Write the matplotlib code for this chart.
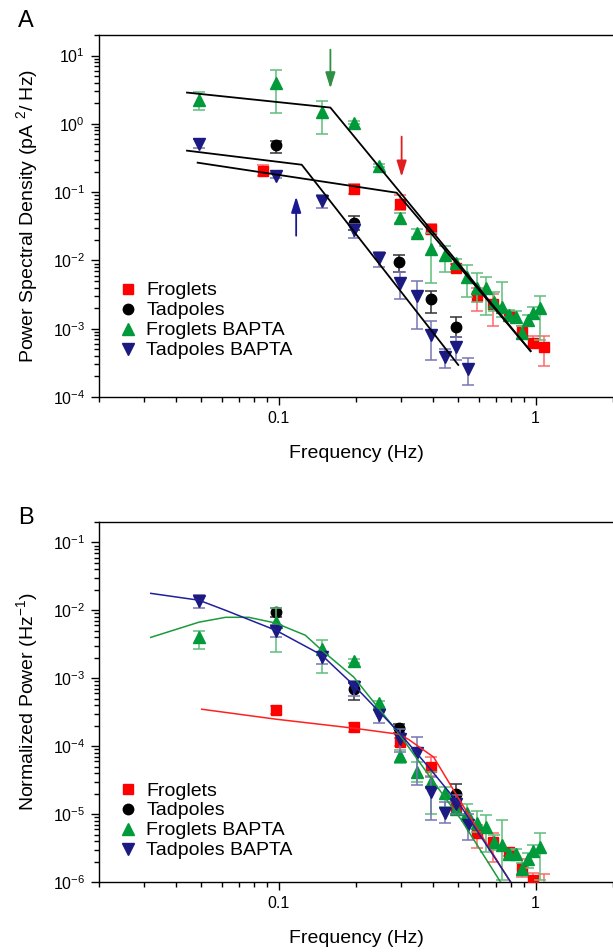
import numpy as np
import matplotlib.pyplot as plt
from matplotlib.ticker import FixedLocator, FixedFormatter, LogLocator, NullFormatter

plt.rcParams['font.family'] = ['Liberation Sans', 'DejaVu Sans']
plt.rcParams['mathtext.fontset'] = 'custom'
plt.rcParams['mathtext.rm'] = 'Liberation Sans'
plt.rcParams['mathtext.it'] = 'Liberation Sans:italic'
plt.rcParams['mathtext.bf'] = 'Liberation Sans:bold'
plt.rcParams['axes.unicode_minus'] = False

# ---------------- Panel A : power spectral density ----------------
a_fr_f = [0.0866, 0.196, 0.296, 0.391, 0.489, 0.589, 0.681, 0.786, 0.882, 0.98, 1.074]
a_fr_v = [0.206, 0.112, 0.0676, 0.029, 0.0078, 0.0030, 0.0023, 0.00155, 0.0009, 0.00062, 0.00054]
a_fr_lo = [0.17, 0.095, 0.055, 0.024, 0.0068, 0.0018, 0.0011, 0.0013, 0.0007, 0.00055, 0.00028]
a_fr_hi = [0.25, 0.13, 0.092, 0.034, 0.009, 0.0040, 0.0032, 0.0018, 0.0011, 0.00078, 0.00078]

a_td_f = [0.0974, 0.196, 0.293, 0.391, 0.489]
a_td_v = [0.495, 0.0356, 0.0095, 0.00273, 0.00106]
a_td_lo = [0.38, 0.028, 0.0068, 0.0017, 0.00076]
a_td_hi = [0.57, 0.044, 0.0119, 0.0036, 0.00149]

a_fb_f = [0.049, 0.0974, 0.147, 0.196, 0.245, 0.296, 0.344, 0.391, 0.443, 0.489, 0.54,
          0.589, 0.639, 0.686, 0.738, 0.786, 0.836, 0.882, 0.93, 0.98, 1.036]
a_fb_v = [2.26, 4.0, 1.51, 1.04, 0.244, 0.042, 0.0254, 0.0148, 0.0121, 0.0092, 0.0057,
          0.0040, 0.0040, 0.0025, 0.0021, 0.00158, 0.0015, 0.00087, 0.00135, 0.0017, 0.0020]
a_fb_lo = [1.6, 1.46, 0.72, 0.98, 0.23, 0.035, 0.022, 0.0047, 0.0068, 0.008, 0.0029,
           0.0025, 0.0016, 0.0018, 0.0015, 0.0013, 0.0012, 0.0007, 0.0011, 0.0014, 0.00068]
a_fb_hi = [2.9, 6.2, 2.19, 1.1, 0.26, 0.05, 0.029, 0.025, 0.016, 0.0105, 0.0085,
           0.0066, 0.0057, 0.0035, 0.0049, 0.0019, 0.0018, 0.0011, 0.0016, 0.0021, 0.003]

a_tb_f = [0.049, 0.0974, 0.147, 0.196, 0.245, 0.296, 0.344, 0.391, 0.443, 0.489, 0.544]
a_tb_v = [0.513, 0.174, 0.075, 0.0281, 0.0109, 0.0047, 0.003, 0.00081, 0.000386, 0.00054, 0.000257]
a_tb_lo = [0.45, 0.16, 0.059, 0.021, 0.0081, 0.0027, 0.00099, 0.00035, 0.00027, 0.00035, 0.00015]
a_tb_hi = [0.6, 0.19, 0.092, 0.034, 0.0133, 0.0068, 0.005, 0.00128, 0.00051, 0.00076, 0.00037]

# broken-line fits (black)
fit_a_fb_f = [0.044, 0.159, 0.956]
fit_a_fb_v = [2.87, 1.73, 4.7e-4]
fit_a_tb_f = [0.044, 0.123, 0.50]
fit_a_tb_v = [0.405, 0.252, 2.95e-4]
fit_a_fr_f = [0.0484, 0.288, 0.956]
fit_a_fr_v = [0.27, 0.098, 4.7e-4]

# ---------------- Panel B : normalized power ----------------
b_fr_f = [0.0974, 0.196, 0.296, 0.391, 0.489, 0.589, 0.681, 0.786, 0.882, 0.98, 1.074]
b_fr_v = [0.00034, 0.00019, 0.000115, 4.9e-5, 1.26e-5, 5.2e-6, 3.9e-6, 2.75e-6, 1.6e-6, 1.07e-6, 7e-7]
b_fr_lo = [0.00030, 0.00016, 0.0001, 3.7e-5, 1.0e-5, 3.2e-6, 1.98e-6, 2.4e-6, 1.2e-6, 8e-7, 5e-7]
b_fr_hi = [0.00039, 0.00022, 0.00013, 6.9e-5, 1.5e-5, 6.9e-6, 5.2e-6, 3.1e-6, 2.2e-6, 1.35e-6, 1.3e-6]

b_td_f = [0.0974, 0.196, 0.293, 0.489]
b_td_v = [0.0094, 0.00069, 0.000184, 1.97e-5]
b_td_lo = [0.008, 0.00048, 0.000155, 1.6e-5]
b_td_hi = [0.011, 0.00085, 0.00021, 2.8e-5]

b_fb_f = a_fb_f
b_fb_v = [0.0040, 0.00667, 0.00267, 0.00178, 0.000426, 7.1e-5, 4.2e-5, 2.95e-5, 2.04e-5, 1.2e-5, 1.04e-5,
          7.5e-6, 6.4e-6, 3.9e-6, 3.5e-6, 2.6e-6, 2.6e-6, 1.55e-6, 2.2e-6, 2.9e-6, 3.3e-6]
b_fb_lo = [0.0027, 0.0024, 0.0012, 0.0017, 0.00038, 5.6e-5, 3.0e-5, 1.0e-5, 1.26e-5, 1.0e-5, 8e-6,
           5.5e-6, 2.8e-6, 3e-6, 1.07e-6, 2.2e-6, 2.2e-6, 1.3e-6, 1.6e-6, 2.4e-6, 1.07e-6]
b_fb_hi = [0.0049, 0.0107, 0.0037, 0.0019, 0.00047, 8.8e-5, 5.8e-5, 4.2e-5, 2.5e-5, 1.5e-5, 1.4e-5,
           1.1e-5, 9.7e-6, 5.0e-6, 8.2e-6, 3.0e-6, 3.1e-6, 1.9e-6, 2.7e-6, 3.5e-6, 5.2e-6]

b_tb_f = a_tb_f
b_tb_v = [0.01355, 0.0049, 0.00204, 0.00074, 0.000286, 0.000127, 7.9e-5, 2.1e-5, 1.03e-5, 1.41e-5, 6.9e-6]
b_tb_lo = [0.011, 0.004, 0.0016, 0.00055, 0.00022, 8.3e-5, 2.7e-5, 8.2e-6, 7.4e-6, 1.0e-5, 4.2e-6]
b_tb_hi = [0.0166, 0.006, 0.0024, 0.0009, 0.00034, 0.00018, 0.000137, 3.5e-5, 1.5e-5, 1.9e-5, 1.0e-5]

# fitted curves (coloured)
fit_b_fr_f = [0.0502, 0.0974, 0.196, 0.293, 0.32, 0.401, 0.515, 0.80]
fit_b_fr_v = [0.00035, 0.00025, 0.000184, 0.00015, 0.000126, 6.9e-5, 1.44e-5, 9.8e-7]
fit_b_tb_f = [0.0318, 0.049, 0.0622, 0.0974, 0.147, 0.196, 0.293, 0.391, 0.515, 0.80]
fit_b_tb_v = [0.0178, 0.0141, 0.01, 0.0051, 0.0022, 0.00079, 0.000162, 4.5e-5, 1.26e-5, 1e-6]
fit_b_fb_f = [0.0318, 0.049, 0.0622, 0.0764, 0.0974, 0.127, 0.147, 0.196, 0.293, 0.391, 0.515, 0.73]
fit_b_fb_v = [0.004, 0.0067, 0.0079, 0.0079, 0.0065, 0.0043, 0.0026, 0.00104, 0.000155, 3.4e-5, 8.1e-6, 1e-6]

labels = ['Froglets', 'Tadpoles', 'Froglets BAPTA', 'Tadpoles BAPTA']
styles = [
    dict(marker='s', color='#ff0000', ecolor='#ff6a6a', ms=7.5),
    dict(marker='o', color='#000000', ecolor='#333333', ms=7.5),
    dict(marker='^', color='#009a3a', ecolor='#5fbf7c', ms=8.5),
    dict(marker='v', color='#1a1a80', ecolor='#7575b5', ms=8.5),
]


def draw_series(ax, i, f, v, lo, hi):
    st = styles[i]
    v = np.array(v)
    yerr = [v - np.array(lo), np.array(hi) - v]
    ax.errorbar(f, v, yerr=yerr, fmt='none', ecolor=st['ecolor'], elinewidth=1.1,
                capsize=4, capthick=1.1, zorder=3 + 2 * i)
    ax.plot(f, v, ls='none', marker=st['marker'], ms=st['ms'], color=st['color'],
            mec=st['color'], label=labels[i], zorder=4 + 2 * i)


def style_axis(ax, ylim):
    ax.set_xscale('log')
    ax.set_yscale('log')
    ax.set_xlim(0.02, 2)
    ax.set_ylim(*ylim)
    ax.xaxis.set_major_locator(FixedLocator([0.1, 1]))
    ax.xaxis.set_major_formatter(FixedFormatter(['0.1', '1']))
    ax.xaxis.set_minor_locator(LogLocator(base=10, subs=np.arange(2, 10), numticks=50))
    ax.xaxis.set_minor_formatter(NullFormatter())
    ax.yaxis.set_major_locator(LogLocator(base=10, numticks=20))
    ax.yaxis.set_minor_locator(LogLocator(base=10, subs=np.arange(2, 10), numticks=100))
    ax.yaxis.set_minor_formatter(NullFormatter())
    ax.tick_params(which='both', direction='out', top=False, right=False, width=1.0,
                   labelsize=11.5, pad=4)
    ax.tick_params(which='major', length=6)
    ax.tick_params(which='minor', length=3.5)
    ax.spines['right'].set_visible(False)
    for s in ['top', 'left', 'bottom']:
        ax.spines[s].set_linewidth(1.0)
    ax.set_xlabel('Frequency (Hz)', fontsize=14, labelpad=14)


fig = plt.figure(figsize=(6.13, 9.52), dpi=100)
W, H = 613, 952
axA = fig.add_axes([99 / W, 1 - 397 / H, 514 / W, 362 / H])
axB = fig.add_axes([99 / W, 1 - 882 / H, 514 / W, 360 / H])

# Panel A
draw_series(axA, 0, a_fr_f, a_fr_v, a_fr_lo, a_fr_hi)
draw_series(axA, 1, a_td_f, a_td_v, a_td_lo, a_td_hi)
draw_series(axA, 2, a_fb_f, a_fb_v, a_fb_lo, a_fb_hi)
draw_series(axA, 3, a_tb_f, a_tb_v, a_tb_lo, a_tb_hi)
for ff, vv in [(fit_a_fb_f, fit_a_fb_v), (fit_a_tb_f, fit_a_tb_v), (fit_a_fr_f, fit_a_fr_v)]:
    axA.plot(ff, vv, color='black', lw=1.3, zorder=20)

# corner-frequency arrows
arrow_kw = dict(arrowstyle='-|>,head_length=0.8,head_width=0.25', lw=1.3,
                shrinkA=0, shrinkB=0, mutation_scale=12)
axA.annotate('', xy=(0.159, 3.3), xytext=(0.159, 12.2),
             arrowprops=dict(color='#2f8f42', **arrow_kw), zorder=25)
axA.annotate('', xy=(0.301, 0.168), xytext=(0.301, 0.65),
             arrowprops=dict(color='#e02020', **arrow_kw), zorder=25)
axA.annotate('', xy=(0.117, 0.086), xytext=(0.117, 0.023),
             arrowprops=dict(color='#1a1a90', **arrow_kw), zorder=25)

style_axis(axA, (1e-4, 20))
axA.set_ylabel('Power Spectral Density (pA $^{2}$/ Hz)', fontsize=14, labelpad=9)
axA.legend(loc='upper left', bbox_to_anchor=(0.037, 0.318), frameon=False, fontsize=14,
           handlelength=1.0, handletextpad=0.45, labelspacing=0.12, borderpad=0,
           borderaxespad=0)

# Panel B
draw_series(axB, 0, b_fr_f, b_fr_v, b_fr_lo, b_fr_hi)
draw_series(axB, 1, b_td_f, b_td_v, b_td_lo, b_td_hi)
draw_series(axB, 2, b_fb_f, b_fb_v, b_fb_lo, b_fb_hi)
draw_series(axB, 3, b_tb_f, b_tb_v, b_tb_lo, b_tb_hi)
axB.plot(fit_b_fr_f, fit_b_fr_v, color='#ff2020', lw=1.1, zorder=20)
axB.plot(fit_b_fb_f, fit_b_fb_v, color='#1c9a3c', lw=1.1, zorder=20)
axB.plot(fit_b_tb_f, fit_b_tb_v, color='#20209a', lw=1.1, zorder=20)

style_axis(axB, (1e-6, 0.2))
axB.set_ylabel('Normalized Power (Hz$^{-1}$)', fontsize=14, labelpad=9)
axB.legend(loc='upper left', bbox_to_anchor=(0.037, 0.278), frameon=False, fontsize=14,
           handlelength=1.0, handletextpad=0.45, labelspacing=0.12, borderpad=0,
           borderaxespad=0)

fig.text(18 / W, 1 - 21 / H, 'A', fontsize=17, ha='left', va='center')
fig.text(18 / W, 1 - 518 / H, 'B', fontsize=17, ha='left', va='center')

fig.savefig('out.png', dpi=100)
